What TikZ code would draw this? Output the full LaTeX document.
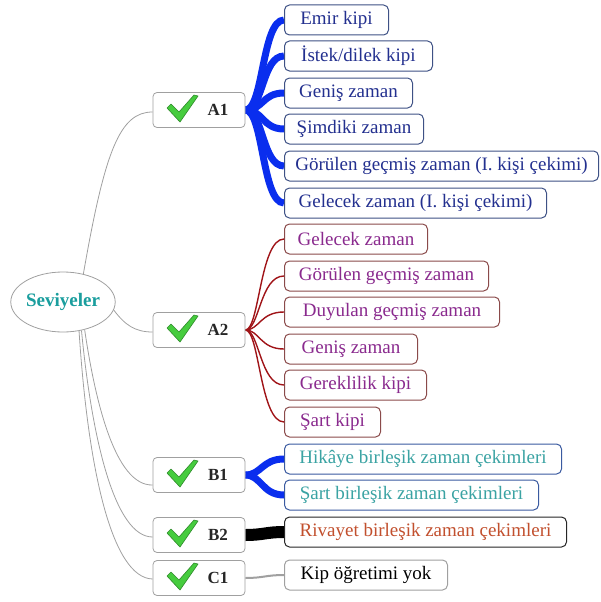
\documentclass[tikz,border=0pt]{standalone}
\usepackage{fontspec}
\setmainfont{Liberation Serif}
\usetikzlibrary{shapes.geometric}
\pgfdeclarelayer{bg}
\pgfsetlayers{bg,main}
\definecolor{tealc}{HTML}{1A9E9E}
\definecolor{bluet}{HTML}{23308F}
\definecolor{blueb}{HTML}{3E5185}
\definecolor{bluel}{HTML}{0A2EEE}
\definecolor{purt}{HTML}{8A2A8E}
\definecolor{purb}{HTML}{8A4A4A}
\definecolor{redl}{HTML}{A01418}
\definecolor{tealt}{HTML}{3AA3A3}
\definecolor{tealb}{HTML}{3A5AA0}
\definecolor{orat}{HTML}{C2502E}
\definecolor{grayl}{HTML}{A0A0A0}
\definecolor{chkg}{HTML}{46CC3E}
\definecolor{chkd}{HTML}{2E8A2A}
\tikzset{
  lvl/.style={draw=grayl, rounded corners=4pt, minimum width=92pt, minimum height=35pt, line width=0.8pt, fill=white, inner sep=0pt, font=\fontsize{17}{20}\selectfont\bfseries, text=black!85},
  cbox/.style={rounded corners=5pt, minimum height=30pt, line width=1pt, inner xsep=3pt, inner ysep=0pt, fill=white, font=\fontsize{19}{22}\selectfont, anchor=west},
  abox/.style={cbox, draw=blueb, text=bluet},
  pbox/.style={cbox, draw=purb, text=purt},
  tbox/.style={cbox, draw=tealb, text=tealt},
  obox/.style={cbox, draw=black!85, text=orat},
  kbox/.style={cbox, draw=grayl, text=black},
  rootline/.style={draw=grayl, line width=0.8pt},
  blueline/.style={draw=bluel, line width=7pt},
  redline/.style={draw=redl, line width=1.4pt},
  blackline/.style={draw=black, line width=12pt},
  grayline/.style={draw=grayl, line width=2pt},
  chk/.pic={\filldraw[fill=chkg, draw=chkd, line width=0.6pt, line join=round] (-15,-1) -- (-11,-5) -- (-3,3) -- (12,-14) -- (16,-13) -- (-2,13) -- cycle;}
}
\begin{document}
\begin{tikzpicture}[x=1pt,y=-1pt]
\useasboundingbox (0,0) rectangle (601,602);

% root
\node[ellipse, draw=grayl, line width=0.8pt, minimum width=104pt, minimum height=60pt, inner sep=0pt, fill=white, text=tealc, font=\fontsize{19}{22}\selectfont\bfseries] (root) at (63,302) {\raisebox{4pt}{Seviyeler}};

% level nodes
\node[lvl] (A1) at (199,110) {\hspace*{38pt}A1};
\node[lvl] (A2) at (199,330) {\hspace*{38pt}A2};
\node[lvl] (B1) at (199,475) {\hspace*{38pt}B1};
\node[lvl] (B2) at (199,535) {\hspace*{38pt}B2};
\node[lvl] (C1) at (199,578) {\hspace*{38pt}C1};
\foreach \yy in {109,329,474,534,577} { \pic at (182,\yy) {chk}; }

% A1 children
\node[abox, minimum width=104pt] (a1) at (284,20) {Emir kipi};
\node[abox, minimum width=148pt] (a2) at (284,56) {İstek/dilek kipi};
\node[abox, minimum width=128pt] (a3) at (284,93) {Geniş zaman};
\node[abox, minimum width=139pt] (a4) at (284,129) {Şimdiki zaman};
\node[abox, minimum width=314pt] (a5) at (284,166) {Görülen geçmiş zaman (I. kişi çekimi)};
\node[abox, minimum width=262pt] (a6) at (284,203) {Gelecek zaman (I. kişi çekimi)};

% A2 children
\node[pbox, minimum width=143pt] (b1) at (284,239) {Gelecek zaman};
\node[pbox, minimum width=204pt] (b2) at (284,276) {Görülen geçmiş zaman};
\node[pbox, minimum width=215pt] (b3) at (284,312) {Duyulan geçmiş zaman};
\node[pbox, minimum width=133pt] (b4) at (284,349) {Geniş zaman};
\node[pbox, minimum width=142pt] (b5) at (284,385) {Gereklilik kipi};
\node[pbox, minimum width=96pt] (b6) at (284,422) {Şart kipi};

% B1, B2, C1 children
\node[tbox, minimum width=277pt] (c1) at (284,459) {Hikâye birleşik zaman çekimleri};
\node[tbox, minimum width=254pt] (c2) at (284,495) {Şart birleşik zaman çekimleri};
\node[obox, minimum width=282pt] (d1) at (284,532) {Rivayet birleşik zaman çekimleri};
\node[kbox, minimum width=163pt] (e1) at (284,575) {Kip öğretimi yok};

\begin{pgfonlayer}{bg}
% root connectors
\draw[rootline] (root.54) .. controls (105,150) and (120,112) .. ([yshift=-2pt]A1.west);
\draw[rootline] (root.-9) .. controls (125,325) and (135,332) .. ([yshift=-2pt]A2.west);
\draw[rootline] (root.-52) .. controls (95,400) and (115,486) .. ([yshift=-10pt]B1.west);
\draw[rootline] (root.-57) .. controls (92,440) and (115,537) .. ([yshift=-2pt]B2.west);
\draw[rootline] (root.-61) .. controls (88,470) and (112,578) .. ([yshift=-1pt]C1.west);

% child connectors
\foreach \c in {a1,a2,a3,a4,a5,a6} {
  \draw[blueline] (A1.east) .. controls +(18,0) and +(-22,0) .. (\c.west);
}
\foreach \c in {b1,b2,b3,b4,b5,b6} {
  \draw[redline] (A2.east) .. controls +(14,0) and +(-24,0) .. (\c.west);
}
\foreach \c in {c1,c2} {
  \draw[blueline] (B1.east) .. controls +(16,0) and +(-22,0) .. (\c.west);
}
\draw[blackline] (B2.east) .. controls +(18,0) and +(-18,0) .. (d1.west);
\draw[grayline] (C1.east) .. controls +(18,0) and +(-18,0) .. (e1.west);
\end{pgfonlayer}
\end{tikzpicture}
\end{document}
